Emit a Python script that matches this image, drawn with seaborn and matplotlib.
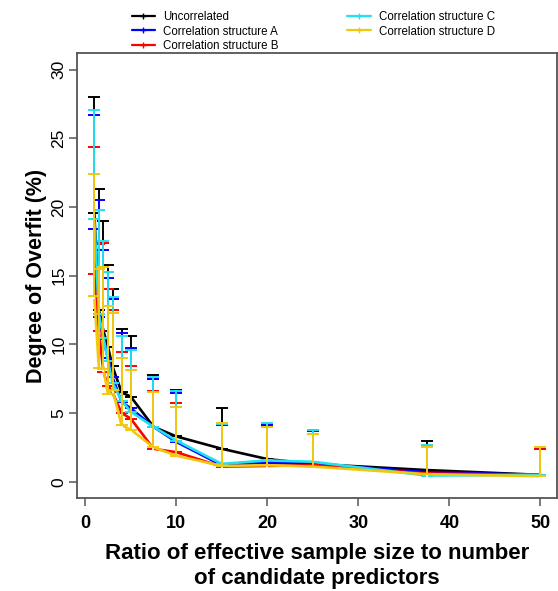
import matplotlib
matplotlib.use("Agg")
import matplotlib.pyplot as plt
import matplotlib.lines as mlines
import numpy as np
import pandas as pd
import seaborn as sns

# ---------------- data ----------------
ratio = [1, 1.5, 2, 2.5, 3, 4, 5, 7.5, 10, 15, 20, 25, 37.5, 50]

series_names = ["Uncorrelated", "Correlation structure A", "Correlation structure B",
                "Correlation structure C", "Correlation structure D"]

uncorrelated_mean = [19.6, 12.5, 11.0, 9.8, 8.4, 6.5, 6.2, 4.0, 3.3, 2.4, 1.65, 1.3, 0.85, 0.5]
struct_a_mean     = [18.4, 12.0, 10.4, 9.0, 7.6, 5.8, 5.35, 4.0, 2.9, 1.2, 1.4, 1.3, 0.7, 0.5]
struct_b_mean     = [15.1, 11.0, 8.0, 7.0, 6.5, 5.0, 4.6, 2.4, 2.15, 1.1, 1.15, 1.2, 0.6, 0.5]
struct_c_mean     = [19.1, 12.2, 10.5, 8.8, 7.2, 5.9, 5.1, 4.0, 3.0, 1.3, 1.55, 1.45, 0.45, 0.5]
struct_d_mean     = [13.5, 8.3, 8.2, 6.4, 6.7, 4.1, 3.8, 2.5, 1.9, 1.15, 1.2, 1.1, 0.55, 0.4]

uncorrelated_upper = [28.0, 21.3, 19.0, 15.8, 14.0, 11.1, 10.6, 7.75, 6.7, 5.4, 4.2, 3.75, 2.95, 2.45]
struct_a_upper     = [26.7, 20.5, 16.9, 14.8, 13.3, 10.8, 9.7, 7.45, 6.45, 4.1, 4.1, 3.7, 2.6, 2.4]
struct_b_upper     = [24.35, 17.3, 17.4, 14.0, 12.5, 9.45, 8.4, 6.6, 5.7, 4.3, 3.95, 3.5, 2.6, 2.4]
struct_c_upper     = [27.1, 19.8, 17.5, 15.3, 13.45, 10.6, 9.6, 7.6, 6.6, 4.2, 4.3, 3.75, 2.7, 2.55]
struct_d_upper     = [22.4, 15.5, 15.6, 12.8, 12.3, 9.0, 8.1, 6.55, 5.45, 4.3, 3.95, 3.45, 2.55, 2.5]

x_ticks = [0, 10, 20, 30, 40, 50]
y_ticks = [0, 5, 10, 15, 20, 25, 30]

colors = ["#000000", "#0000ff", "#ff0000", "#22e0ee", "#f2c80f"]

means = [uncorrelated_mean, struct_a_mean, struct_b_mean, struct_c_mean, struct_d_mean]
uppers = [uncorrelated_upper, struct_a_upper, struct_b_upper, struct_c_upper, struct_d_upper]

rows = []
for name, m, u in zip(series_names, means, uppers):
    for r, mv, uv in zip(ratio, m, u):
        rows.append({"series": name, "ratio": r, "mean": mv, "upper": uv})
df = pd.DataFrame(rows)

# ---------------- style ----------------
sns.set_style("white")
plt.rcParams["font.family"] = ["Liberation Sans", "DejaVu Sans"]
plt.rcParams["text.color"] = "black"
plt.rcParams["axes.labelcolor"] = "black"
plt.rcParams["xtick.color"] = "black"
plt.rcParams["ytick.color"] = "black"

fig = plt.figure(figsize=(5.58, 5.91), dpi=100)
ax = fig.add_axes([0.138, 0.157, 0.860, 0.753])

handles = []
for name, col in zip(series_names, colors):
    sub = df[df["series"] == name]
    sns.lineplot(data=sub, x="ratio", y="mean", color=col, linewidth=1.9,
                 marker="+", markersize=5, markeredgewidth=1.2,
                 ax=ax, legend=False, errorbar=None, sort=False)
    ax.errorbar(sub["ratio"], sub["mean"],
                yerr=[np.zeros(len(sub)), sub["upper"] - sub["mean"]],
                fmt="none", ecolor=col, elinewidth=1.4, capsize=4, capthick=1.4)
    handles.append(mlines.Line2D([], [], color=col, linewidth=1.6, marker="+",
                                 markersize=4, markeredgewidth=1.0))

ax.set_xlim(-0.9, 51.8)
ax.set_ylim(-1.2, 31.2)
ax.set_xticks(x_ticks)
ax.set_yticks(y_ticks)
ax.set_xticklabels([str(t) for t in x_ticks], fontsize=13, fontweight="bold")
ax.set_yticklabels([str(t) for t in y_ticks], fontsize=12.5)
for lab in ax.get_yticklabels():
    lab.set_rotation(90)
    lab.set_va("center")
    lab.set_ha("right")

ax.tick_params(axis="both", direction="out", length=6, width=1.1, color="#555555",
               labelcolor="black", bottom=True, left=True)
ax.tick_params(axis="x", pad=6)
ax.tick_params(axis="y", pad=1.5)

for sp in ax.spines.values():
    sp.set_visible(True)
    sp.set_color("#555555")
    sp.set_linewidth(1.3)

ax.set_xlabel("Ratio of effective sample size to number\nof candidate predictors",
              fontsize=16, fontweight="bold", labelpad=8, linespacing=1.28, color="black")
ax.set_ylabel("Degree of Overfit (%)", fontsize=15.5, fontweight="bold", labelpad=3,
              color="black")

fig.legend(handles, series_names, loc="upper left", bbox_to_anchor=(0.236, 0.981),
           ncol=2, frameon=False, fontsize=8.3, handlelength=2.0, handletextpad=0.7,
           columnspacing=6.0, labelspacing=0.2, borderaxespad=0, borderpad=0)

fig.savefig("out.png", dpi=100)
